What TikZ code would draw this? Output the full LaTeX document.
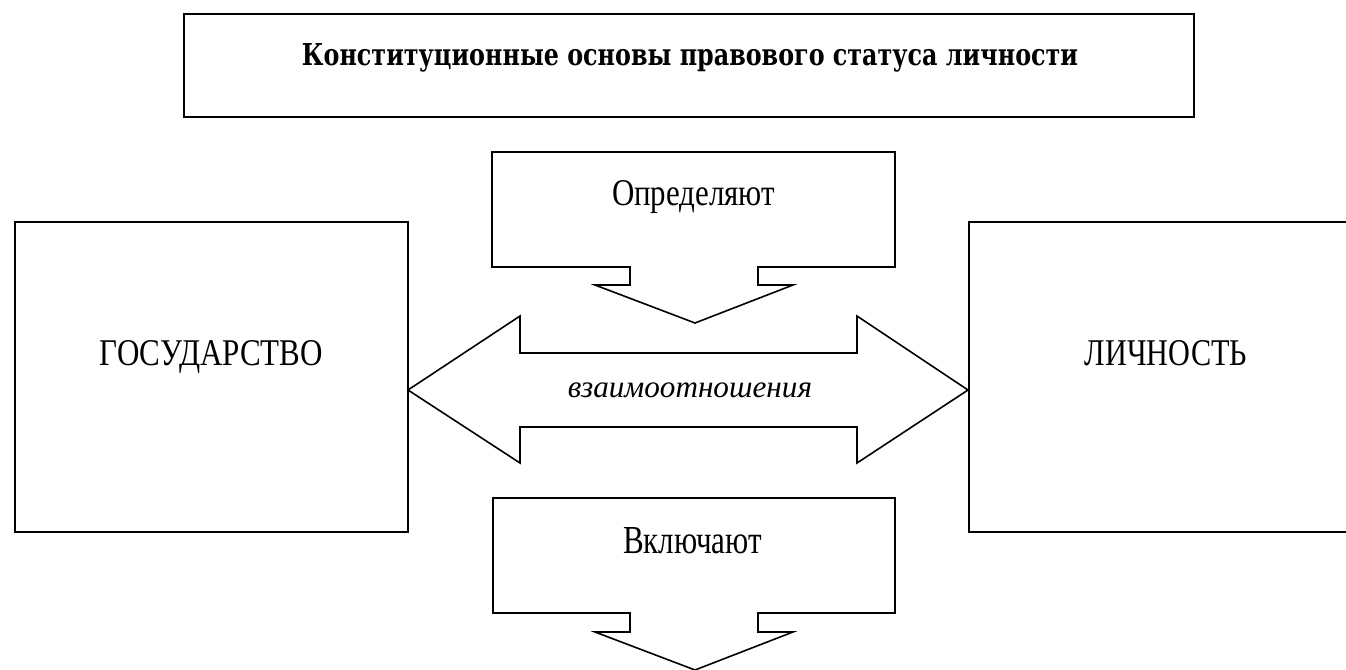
\documentclass[tikz,border=0pt]{standalone}
\usepackage{graphicx}
\usepackage{fontspec}
\newfontfamily\labf{Liberation Serif}
\newfontfamily\titlef{DejaVu Serif}
\begin{document}
\begin{tikzpicture}[x=1pt,y=-1pt,
  shape line/.style={draw=black,line width=1.6pt,line join=miter,fill=white},
  lbl/.style={inner sep=0pt,outer sep=0pt,anchor=base}]
\useasboundingbox[fill=white] (0,0) rectangle (1346,669);
% title box
\node[shape line,rectangle,minimum width=1010pt,minimum height=103pt,inner sep=0pt] (titlebox) at (689,65.5) {};
\node[lbl] (title) at (690,65) {\resizebox{776pt}{22pt}{\titlef\bfseries Конституционные основы правового статуса личности}};
% left box
\node[shape line,rectangle,minimum width=393pt,minimum height=310pt,inner sep=0pt] (gosbox) at (211.5,377) {};
\node[lbl] (gos) at (211.5,365) {\resizebox{223pt}{25pt}{\labf ГОСУДАРСТВО}};
% right box (runs off the right edge)
\draw[shape line] (1350,222) -- (969,222) -- (969,532) -- (1350,532);
\node[lbl] (lich) at (1166,365) {\resizebox{162pt}{25pt}{\labf ЛИЧНОСТЬ}};
% top callout
\draw[shape line] (492,152) -- (895,152) -- (895,267) -- (758,267) -- (758,285) -- (793,285) -- (695,323) -- (595,285) -- (630,285) -- (630,267) -- (492,267) -- cycle;
\node[lbl] (opr) at (693.5,205) {\resizebox{163pt}{25pt}{\labf Определяют}};
% double arrow
\draw[shape line] (408,390) -- (520,316) -- (520,353) -- (857,353) -- (857,316) -- (968,390) -- (857,463) -- (857,427) -- (520,427) -- (520,463) -- cycle;
\node[lbl] (vz) at (690,397) {\resizebox{244pt}{!}{\labf\itshape взаимоотношения}};
% bottom callout
\draw[shape line] (493,498) -- (895,498) -- (895,613) -- (758,613) -- (758,632) -- (793,632) -- (695,670) -- (595,632) -- (630,632) -- (630,613) -- (493,613) -- cycle;
\node[lbl] (vkl) at (692.5,553) {\resizebox{139pt}{26pt}{\labf Включают}};
\end{tikzpicture}
\end{document}
